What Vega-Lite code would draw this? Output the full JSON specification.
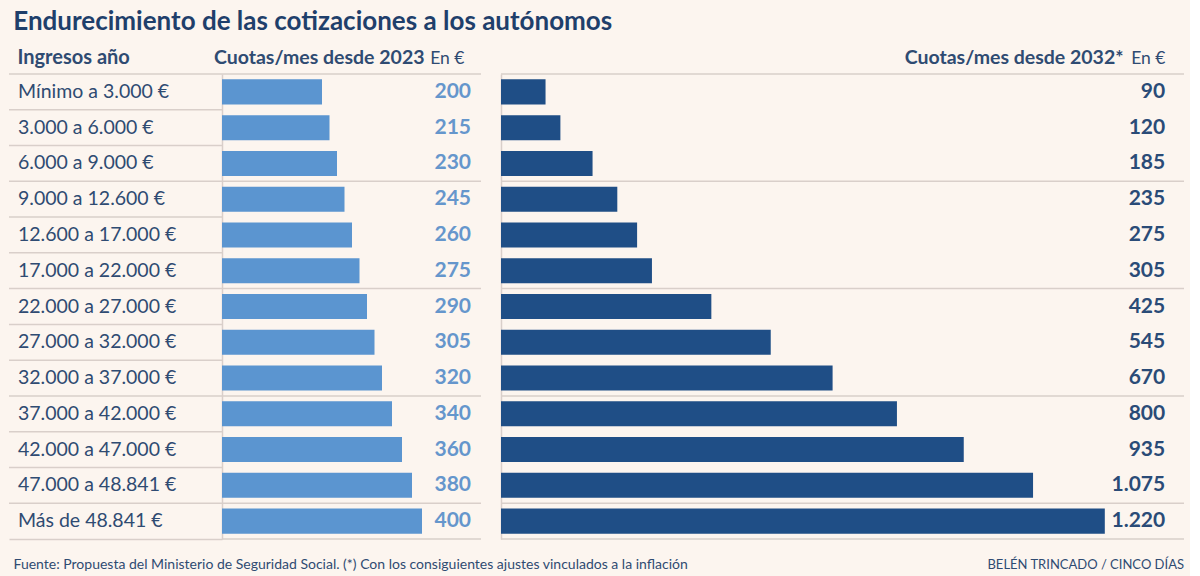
{
  "$schema": "https://vega.github.io/schema/vega-lite/v6.json",
  "background": "#FCF5EF",
  "padding": {"left": 8, "top": 9, "right": 5, "bottom": 5},
  "config": {
    "view": {"stroke": null},
    "font": "Lato",
    "locale": {"number": {"decimal": ",", "thousands": ".", "grouping": [3], "currency": ["", " €"]}}
  },
  "title": {
    "text": "Endurecimiento de las cotizaciones a los autónomos",
    "anchor": "start",
    "frame": "bounds",
    "font": "Lato",
    "fontSize": 26,
    "fontWeight": "bold",
    "color": "#1F3F6B",
    "baseline": "alphabetic",
    "offset": -9,
    "dx": 5
  },
  "datasets": {
    "cuotas": [
      {"tramo": "Mínimo a 3.000 €", "c2023": 200, "c2032": 90},
      {"tramo": "3.000 a 6.000 €", "c2023": 215, "c2032": 120},
      {"tramo": "6.000 a 9.000 €", "c2023": 230, "c2032": 185},
      {"tramo": "9.000 a 12.600 €", "c2023": 245, "c2032": 235},
      {"tramo": "12.600 a 17.000 €", "c2023": 260, "c2032": 275},
      {"tramo": "17.000 a 22.000 €", "c2023": 275, "c2032": 305},
      {"tramo": "22.000 a 27.000 €", "c2023": 290, "c2032": 425},
      {"tramo": "27.000 a 32.000 €", "c2023": 305, "c2032": 545},
      {"tramo": "32.000 a 37.000 €", "c2023": 320, "c2032": 670},
      {"tramo": "37.000 a 42.000 €", "c2023": 340, "c2032": 800},
      {"tramo": "42.000 a 47.000 €", "c2023": 360, "c2032": 935},
      {"tramo": "47.000 a 48.841 €", "c2023": 380, "c2032": 1075},
      {"tramo": "Más de 48.841 €", "c2023": 400, "c2032": 1220}
    ]
  },
  "spacing": 0,
  "bounds": "flush",
  "hconcat": [
    {
      "width": 213,
      "height": 465,
      "data": {"name": "cuotas"},
      "layer": [
        {
          "mark": {"type": "rule", "color": "#D9CFCA", "strokeWidth": 1.5},
          "encoding": {
            "y": {"field": "tramo", "type": "nominal", "sort": null, "bandPosition": 0,
                  "scale": {"paddingInner": 0, "paddingOuter": 0,
                            "domain": ["Mínimo a 3.000 €", "3.000 a 6.000 €", "6.000 a 9.000 €", "9.000 a 12.600 €", "12.600 a 17.000 €", "17.000 a 22.000 €", "22.000 a 27.000 €", "27.000 a 32.000 €", "32.000 a 37.000 €", "37.000 a 42.000 €", "42.000 a 47.000 €", "47.000 a 48.841 €", "Más de 48.841 €"]},
                  "axis": {"domain": false, "labels": false, "ticks": false, "grid": false,
                           "title": "Ingresos año", "titleAngle": 0, "titleX": 8, "titleY": -11,
                           "titleAlign": "left", "titleBaseline": "alphabetic",
                           "titleFont": "Lato", "titleFontSize": 20, "titleFontWeight": "bold", "titleColor": "#2F4B72"}}
          }
        },
        {
          "mark": {"type": "text", "align": "left", "baseline": "middle", "dx": 9, "font": "Lato", "fontSize": 19.5, "color": "#2F4B72"},
          "encoding": {
            "y": {"field": "tramo", "type": "nominal", "sort": null},
            "x": {"datum": 0, "type": "quantitative", "scale": {"domain": [0, 1]},
                  "axis": {"orient": "bottom", "domain": true, "domainColor": "#D9CFCA", "domainWidth": 1.5,
                           "labels": false, "ticks": false, "grid": false,
                           "title": "Fuente: Propuesta del Ministerio de Seguridad Social. (*) Con los consiguientes ajustes vinculados a la inflación",
                           "titleX": 4, "titleY": 29, "titleAlign": "left", "titleBaseline": "alphabetic",
                           "titleFont": "Lato", "titleFontSize": 14, "titleFontWeight": "normal", "titleColor": "#2F4B72"}},
            "text": {"field": "tramo"}
          }
        }
      ]
    },
    {
      "width": 279,
      "height": 465,
      "data": {"name": "cuotas"},
      "layer": [
        {
          "transform": [{"filter": {"field": "tramo", "oneOf": ["Mínimo a 3.000 €", "9.000 a 12.600 €", "22.000 a 27.000 €", "37.000 a 42.000 €", "Más de 48.841 €"]}}],
          "mark": {"type": "rule", "color": "#D9CFCA", "strokeWidth": 1.5},
          "encoding": {
            "y": {"field": "tramo", "type": "nominal", "sort": null, "bandPosition": 0},
            "x": {"datum": 0, "type": "quantitative"},
            "x2": {"datum": 518}
          }
        },
        {
          "transform": [{"filter": {"field": "tramo", "equal": "Más de 48.841 €"}}],
          "mark": {"type": "rule", "color": "#D9CFCA", "strokeWidth": 1.5},
          "encoding": {
            "y": {"field": "tramo", "type": "nominal", "sort": null, "bandPosition": 1},
            "x": {"datum": 0, "type": "quantitative"},
            "x2": {"datum": 518}
          }
        },
        {
          "mark": {"type": "bar", "color": "#5B95D0", "height": {"band": 0.7}},
          "encoding": {
            "y": {"field": "tramo", "type": "nominal", "sort": null,
                  "scale": {"paddingInner": 0, "paddingOuter": 0,
                            "domain": ["Mínimo a 3.000 €", "3.000 a 6.000 €", "6.000 a 9.000 €", "9.000 a 12.600 €", "12.600 a 17.000 €", "17.000 a 22.000 €", "22.000 a 27.000 €", "27.000 a 32.000 €", "32.000 a 37.000 €", "37.000 a 42.000 €", "42.000 a 47.000 €", "47.000 a 48.841 €", "Más de 48.841 €"]},
                  "axis": {"domain": true, "domainColor": "#D9CFCA", "domainWidth": 1.5, "labels": false, "ticks": false, "grid": false,
                           "title": "En €", "titleAngle": 0, "titleX": 242, "titleY": -11,
                           "titleAlign": "right", "titleBaseline": "alphabetic",
                           "titleFont": "Lato", "titleFontSize": 17.5, "titleFontWeight": "normal", "titleColor": "#2F4B72"}},
            "x": {"field": "c2023", "type": "quantitative", "scale": {"domain": [0, 558], "nice": false, "zero": true},
                  "axis": {"orient": "top", "domain": false, "labels": false, "ticks": false, "grid": false,
                           "title": "Cuotas/mes desde 2023", "titleX": 202, "titleY": -11,
                           "titleAlign": "right", "titleBaseline": "alphabetic",
                           "titleFont": "Lato", "titleFontSize": 19.5, "titleFontWeight": "bold", "titleColor": "#2F4B72"}}
          }
        },
        {
          "mark": {"type": "text", "align": "right", "baseline": "middle", "font": "Lato", "fontSize": 21, "fontWeight": "bold", "color": "#6596CC"},
          "encoding": {
            "y": {"field": "tramo", "type": "nominal", "sort": null},
            "x": {"datum": 498, "type": "quantitative"},
            "text": {"field": "c2023", "type": "quantitative", "format": ",d"}
          }
        }
      ]
    },
    {
      "width": 683,
      "height": 465,
      "data": {"name": "cuotas"},
      "title": {
        "text": "BELÉN TRINCADO / CINCO DÍAS",
        "orient": "bottom",
        "anchor": "end",
        "frame": "group",
        "baseline": "alphabetic",
        "offset": 29,
        "font": "Lato",
        "fontSize": 13,
        "fontWeight": "normal",
        "color": "#2F4B72"
      },
      "layer": [
        {
          "transform": [{"filter": {"field": "tramo", "oneOf": ["Mínimo a 3.000 €", "9.000 a 12.600 €", "22.000 a 27.000 €", "37.000 a 42.000 €", "Más de 48.841 €"]}}],
          "mark": {"type": "rule", "color": "#D9CFCA", "strokeWidth": 1.5},
          "encoding": {
            "y": {"field": "tramo", "type": "nominal", "sort": null, "bandPosition": 0}
          }
        },
        {
          "transform": [{"filter": {"field": "tramo", "equal": "Más de 48.841 €"}}],
          "mark": {"type": "rule", "color": "#D9CFCA", "strokeWidth": 1.5},
          "encoding": {
            "y": {"field": "tramo", "type": "nominal", "sort": null, "bandPosition": 1}
          }
        },
        {
          "mark": {"type": "bar", "color": "#1F4E86", "height": {"band": 0.7}},
          "encoding": {
            "y": {"field": "tramo", "type": "nominal", "sort": null,
                  "scale": {"paddingInner": 0, "paddingOuter": 0,
                            "domain": ["Mínimo a 3.000 €", "3.000 a 6.000 €", "6.000 a 9.000 €", "9.000 a 12.600 €", "12.600 a 17.000 €", "17.000 a 22.000 €", "22.000 a 27.000 €", "27.000 a 32.000 €", "32.000 a 37.000 €", "37.000 a 42.000 €", "42.000 a 47.000 €", "47.000 a 48.841 €", "Más de 48.841 €"]},
                  "axis": {"domain": true, "domainColor": "#D9CFCA", "domainWidth": 1.5, "labels": false, "ticks": false, "grid": false,
                           "title": "En €", "titleAngle": 0, "titleX": 664, "titleY": -11,
                           "titleAlign": "right", "titleBaseline": "alphabetic",
                           "titleFont": "Lato", "titleFontSize": 17.5, "titleFontWeight": "normal", "titleColor": "#2F4B72"}},
            "x": {"field": "c2032", "type": "quantitative", "scale": {"domain": [0, 1380], "nice": false, "zero": true},
                  "axis": {"orient": "top", "domain": false, "labels": false, "ticks": false, "grid": false,
                           "title": "Cuotas/mes desde 2032*", "titleX": 622, "titleY": -11,
                           "titleAlign": "right", "titleBaseline": "alphabetic",
                           "titleFont": "Lato", "titleFontSize": 19.5, "titleFontWeight": "bold", "titleColor": "#2F4B72"}}
          }
        },
        {
          "mark": {"type": "text", "align": "right", "baseline": "middle", "font": "Lato", "fontSize": 21, "fontWeight": "bold", "color": "#2A4B77"},
          "encoding": {
            "y": {"field": "tramo", "type": "nominal", "sort": null},
            "x": {"datum": 1342, "type": "quantitative"},
            "text": {"field": "c2032", "type": "quantitative", "format": ",d"}
          }
        }
      ]
    }
  ]
}
